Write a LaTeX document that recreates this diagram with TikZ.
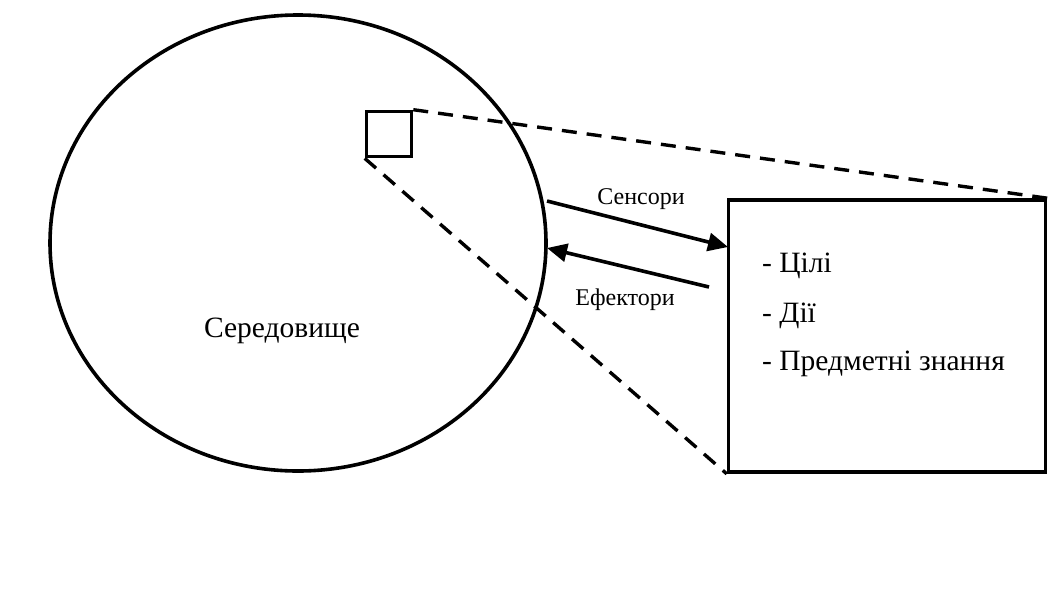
\documentclass[tikz,border=0pt]{standalone}
\usepackage{fontspec}
\setmainfont{Liberation Serif}
\usetikzlibrary{arrows.meta}
\begin{document}
\begin{tikzpicture}[x=1pt,y=-1pt,
  thick line/.style={line width=3.6pt},
  dash line/.style={line width=3.4pt, dash pattern=on 15pt off 10pt},
  arr/.style={line width=3.6pt, -{Triangle[length=20pt,width=18pt]}},
  big/.style={font=\fontsize{29.5}{34}\selectfont},
  small/.style={font=\fontsize{24}{28}\selectfont},
  inner/.style={font=\fontsize{29.5}{34}\selectfont, anchor=west, inner sep=0pt}]
\useasboundingbox (0,0) rectangle (1064,592);
\draw[thick line] (298,243) ellipse [x radius=248, y radius=228];
\node[draw, thick line, minimum width=45pt, minimum height=45pt, inner sep=0pt] (sq) at (389,134) {};
\node[draw, thick line, minimum width=317pt, minimum height=272pt, inner sep=0pt] (box) at (887,336) {};
\coordinate (s1) at (547,201);
\coordinate (s2) at (728,247);
\coordinate (e1) at (709,287);
\coordinate (e2) at (547,248);
\draw[dash line] (sq.north east) -- (box.north east);
\draw[dash line] (sq.south west) -- (box.south west);
\draw[arr] (s1) -- (s2);
\draw[arr] (e1) -- (e2);
\node[small] (sl) at (641,199) {Сенсори};
\node[small] (el) at (625,300) {Ефектори};
\node[big] (env) at (282,331) {Середовище};
\node[inner] (t1) at (762,266) {- Цілі};
\node[inner] (t2) at (762,316) {- Дії};
\node[inner] (t3) at (762,364) {- Предметні знання};
\end{tikzpicture}
\end{document}
